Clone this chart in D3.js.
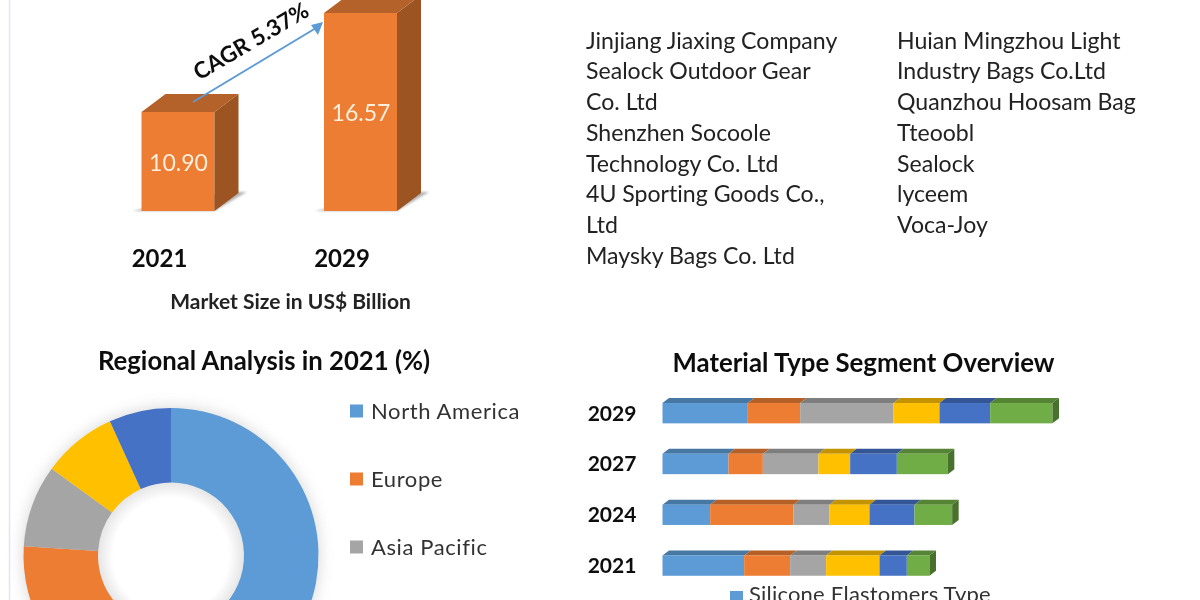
<!DOCTYPE html>
<html>
<head>
<meta charset="utf-8">
<script src="https://cdn.jsdelivr.net/npm/d3@7"></script>
<style>
  html, body { margin: 0; padding: 0; background: #fff; overflow: hidden; }
  text { font-family: Lato, "Open Sans", sans-serif; fill: #1a1a1a; font-variant-ligatures: none; }
</style>
</head>
<body>
<div id="chart"></div>
<script>
// market size bars
const sizeYears = ["2021", "2029"];
const sizeValues = [10.90, 16.57];

// key players, two columns
const playersLeft = ["Jinjiang Jiaxing Company", "Sealock Outdoor Gear", "Co. Ltd", "Shenzhen Socoole",
  "Technology Co. Ltd", "4U Sporting Goods Co.,", "Ltd", "Maysky Bags Co. Ltd"];
const playersRight = ["Huian Mingzhou Light", "Industry Bags Co.Ltd", "Quanzhou Hoosam Bag",
  "Tteoobl", "Sealock", "lyceem", "Voca-Joy"];

// regional donut, clockwise from the top
const regionValues = [56, 20, 9.0, 8.2, 6.8];
const regionColors = ["#5b9bd5", "#ed7d31", "#a5a5a5", "#ffc000", "#4472c4"];
const regionLegend = ["North America", "Europe", "Asia Pacific"];

// material type stacked bars
const materialYears = ["2029", "2027", "2024", "2021"];
const materialA = [25.6, 19.8, 14.3, 24.5];
const materialB = [15.7, 10.3, 25.0, 13.8];
const materialC = [28.0, 16.7, 10.8, 10.8];
const materialD = [13.8, 9.5, 12.0, 16.0];
const materialE = [15.2, 14.0, 13.5, 8.2];
const materialF = [18.7, 15.3, 11.3, 6.8];
const materialColors = ["#5b9bd5", "#ed7d31", "#a5a5a5", "#ffc000", "#4472c4", "#70ad47"];

const cfg = { width: 1200, height: 600 };

const svg = d3.select("#chart").append("svg")
  .attr("width", cfg.width)
  .attr("height", cfg.height)
  .style("display", "block");

const defs = svg.append("defs");
defs.append("filter").attr("id", "soft")
  .append("feGaussianBlur").attr("stdDeviation", 0.45);
defs.append("filter").attr("id", "glow")
  .attr("x", "-20%").attr("y", "-20%").attr("width", "140%").attr("height", "140%")
  .append("feGaussianBlur").attr("stdDeviation", 7);
defs.append("filter").attr("id", "shadow")
  .append("feGaussianBlur").attr("stdDeviation", 1.2);

const holeGradient = defs.append("radialGradient").attr("id", "hole");
holeGradient.append("stop").attr("offset", "78%").attr("stop-color", "#ffffff");
holeGradient.append("stop").attr("offset", "100%").attr("stop-color", "#e4e4e4");

const root = svg.append("g").attr("filter", "url(#soft)");

function darker(color, k) {
  return d3.color(color).darker(k).formatHex();
}

// thin line along the left side of the picture
function drawEdge(g) {
  g.append("line")
    .attr("x1", 9.5).attr("y1", 0).attr("x2", 9.5).attr("y2", cfg.height)
    .attr("stroke", "#dfe8f2").attr("stroke-width", 1.5);
}

function drawSizeBars(g) {
  const x = d3.scalePoint().domain(sizeYears).range([141.5, 324]);
  const y = d3.scaleLinear().domain([5.23, 16.57]).range([211, 13]);
  const w = 73, dx = 24, dy = 18;

  sizeYears.forEach((year, i) => {
    const x0 = x(year), y0 = y(sizeValues[i]), base = y(5.23);
    const bar = g.append("g");
    // floor shadow
    bar.append("path")
      .attr("d", `M${x0 - 9},${base} L${x0 + w},${base} L${x0 + w + dx + 8},${base - dy - 1} L${x0 + w + 8},${base - dy - 1} Z`)
      .attr("fill", "#9a9a9a").attr("opacity", 0.75).attr("filter", "url(#shadow)");
    bar.append("rect").attr("x", x0).attr("y", y0).attr("width", w).attr("height", base - y0).attr("fill", "#ed7d31");
    bar.append("path")
      .attr("d", `M${x0},${y0} L${x0 + dx},${y0 - dy} L${x0 + w + dx},${y0 - dy} L${x0 + w},${y0} Z`)
      .attr("fill", "#b4622a");
    bar.append("path")
      .attr("d", `M${x0 + w},${y0} L${x0 + w + dx},${y0 - dy} L${x0 + w + dx},${base - dy} L${x0 + w},${base} Z`)
      .attr("fill", "#9c5520");
    bar.append("text")
      .attr("x", x0 + w / 2 + 0.5).attr("y", (y0 + base) / 2 + 3.5)
      .attr("text-anchor", "middle").attr("dominant-baseline", "middle")
      .style("font-size", "23px").style("fill", "#fdeedd")
      .text(sizeValues[i].toFixed(2));
    g.append("text")
      .attr("x", x0 + 18).attr("y", 267)
      .attr("text-anchor", "middle")
      .style("font-size", "24px").style("font-weight", 700).style("fill", "#111")
      .text(year);
  });

  // CAGR arrow
  g.append("line")
    .attr("x1", 193).attr("y1", 102).attr("x2", 316).attr("y2", 28)
    .attr("stroke", "#5b9bd5").attr("stroke-width", 2);
  g.append("path").attr("d", "M323,22 L311,25 L318,35 Z").attr("fill", "#5b9bd5");
  g.append("text")
    .attr("transform", "translate(252,43) rotate(-30.5)")
    .attr("text-anchor", "middle").attr("dominant-baseline", "middle")
    .style("font-size", "22.5px").style("font-weight", 700).style("fill", "#111")
    .text("CAGR 5.37%");
  g.append("text")
    .attr("x", 290.5).attr("y", 309).attr("text-anchor", "middle")
    .style("font-size", "21px").style("font-weight", 700).style("fill", "#222")
    .text("Market Size in US$ Billion");
}

function drawPlayers(g) {
  const y = d3.scaleLinear().domain([0, 1]).range([48.5, 79.25]);
  [[playersLeft, 586], [playersRight, 897]].forEach(([list, left]) => {
    g.append("g").selectAll("text").data(list).enter().append("text")
      .attr("x", left)
      .attr("y", (d, i) => y(i))
      .style("font-size", "23.1px")
      .style("fill", "#222")
      .text(d => d);
  });
}

function drawDonut(g) {
  const cx = 171, cy = 555.5, outer = 147.5, inner = 73;
  const pie = d3.pie().sort(null)(regionValues);
  const arc = d3.arc().innerRadius(inner).outerRadius(outer);

  g.append("circle").attr("cx", cx).attr("cy", cy).attr("r", outer + 2)
    .attr("fill", "#b5b5b5").attr("opacity", 0.45).attr("filter", "url(#glow)");
  g.append("circle").attr("cx", cx).attr("cy", cy).attr("r", inner + 1).attr("fill", "url(#hole)");
  const donut = g.append("g").attr("transform", `translate(${cx},${cy})`);
  donut.selectAll("path").data(pie).enter().append("path")
    .attr("d", arc)
    .attr("fill", (d, i) => regionColors[i]);

  g.append("text")
    .attr("x", 264).attr("y", 370).attr("text-anchor", "middle")
    .style("font-size", "25.7px").style("font-weight", 700).style("fill", "#111")
    .text("Regional Analysis in 2021 (%)");

  const y = d3.scaleLinear().domain([0, 1]).range([411, 479]);
  const legend = g.append("g").selectAll("g").data(regionLegend).enter().append("g")
    .attr("transform", (d, i) => `translate(350,${y(i)})`);
  legend.append("rect").attr("x", 0).attr("y", -6.5).attr("width", 13).attr("height", 13)
    .attr("fill", (d, i) => regionColors[i]);
  legend.append("text").attr("x", 21).attr("y", 8)
    .style("font-size", "22px").style("letter-spacing", "0.6px").style("fill", "#333")
    .text(d => d);
}

function drawMaterial(g) {
  const series = [materialA, materialB, materialC, materialD, materialE, materialF];
  const rows = materialYears.map((year, i) => {
    const row = { year: year };
    series.forEach((s, k) => { row["s" + k] = s[i]; });
    return row;
  });
  const stacked = d3.stack().keys(series.map((s, k) => "s" + k))(rows);

  const x = d3.scaleLinear().domain([0, 117]).range([662.5, 1052.5]);
  const y = d3.scaleBand().domain(materialYears).range([387.8, 591]).paddingInner(0.6).paddingOuter(0.3);
  const dx = 6.5, dy = 5;

  stacked.forEach((layer, k) => {
    const color = materialColors[k];
    const group = g.append("g");
    layer.forEach((d, i) => {
      const x0 = x(d[0]), x1 = x(d[1]), top = y(materialYears[i]), h = y.bandwidth();
      group.append("path")
        .attr("d", `M${x0},${top} L${x0 + dx},${top - dy} L${x1 + dx},${top - dy} L${x1},${top} Z`)
        .attr("fill", darker(color, 0.75));
      group.append("rect").attr("x", x0).attr("y", top).attr("width", x1 - x0).attr("height", h)
        .attr("fill", color);
      if (k === series.length - 1) {
        group.append("path")
          .attr("d", `M${x1},${top} L${x1 + dx},${top - dy} L${x1 + dx},${top + h - dy} L${x1},${top + h} Z`)
          .attr("fill", darker(color, 1.2));
      }
    });
  });

  g.append("g").selectAll("text").data(materialYears).enter().append("text")
    .attr("x", 612).attr("y", d => y(d) + y.bandwidth() / 2 + 2)
    .attr("text-anchor", "middle").attr("dominant-baseline", "middle")
    .style("font-size", "21px").style("font-weight", 700).style("fill", "#111")
    .text(d => d);

  g.append("text")
    .attr("x", 863.5).attr("y", 372).attr("text-anchor", "middle")
    .style("font-size", "25.8px").style("font-weight", 700).style("fill", "#111")
    .text("Material Type Segment Overview");

  g.append("rect").attr("x", 730).attr("y", 591).attr("width", 13).attr("height", 14).attr("fill", materialColors[0]);
  g.append("text").attr("x", 749).attr("y", 602)
    .style("font-size", "22px").style("letter-spacing", "0.2px").style("fill", "#333")
    .text("Silicone Elastomers Type");
}

drawEdge(root.append("g"));
drawSizeBars(root.append("g"));
drawPlayers(root.append("g"));
drawDonut(root.append("g"));
drawMaterial(root.append("g"));
</script>
</body>
</html>
